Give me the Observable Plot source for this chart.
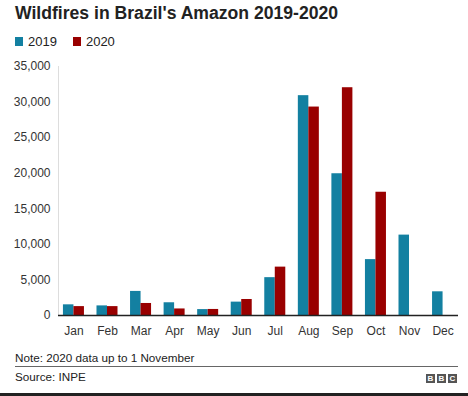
<!DOCTYPE html>
<html>
<head>
<meta charset="utf-8">
<script src="https://cdn.jsdelivr.net/npm/d3@7"></script>
<script src="https://cdn.jsdelivr.net/npm/@observablehq/plot@0.6"></script>
<style>
  html, body { margin: 0; padding: 0; background: #fff; }
  body { width: 468px; height: 396px; position: relative; overflow: hidden; font-family: "Liberation Sans", Arial, sans-serif; }
  #title { position: absolute; left: 15px; top: 3px; font-size: 17.6px; font-weight: bold; color: #222; white-space: nowrap; }
  #legend { position: absolute; left: 15px; top: 34px; font-size: 13px; color: #222; display: flex; align-items: center; }
  #legend .sw { display: inline-block; width: 8px; height: 9px; margin-right: 5px; }
  #legend .item { display: flex; align-items: center; margin-right: 16px; }
  #chart { position: absolute; left: 0; top: 56px; }
  #note { position: absolute; left: 15px; top: 351px; font-size: 11.7px; color: #222; }
  #rule { position: absolute; left: 15px; top: 366px; width: 443px; height: 1px; background: #666; }
  #source { position: absolute; left: 15px; top: 370px; font-size: 11.7px; color: #222; }
  #bbc { position: absolute; left: 426px; top: 374px; display: flex; }
  #bbc span { display: inline-block; width: 9px; height: 9px; background: #555; color: #fff; font-size: 8px; font-weight: bold; line-height: 9px; text-align: center; margin-right: 2px; }
  #bottom { position: absolute; left: 0; top: 393px; width: 468px; height: 3px; background: #222; }
</style>
</head>
<body>
<div id="title">Wildfires in Brazil's Amazon 2019-2020</div>
<div id="legend"></div>
<div id="chart"></div>
<div id="note">Note: 2020 data up to 1 November</div>
<div id="rule"></div>
<div id="source">Source: INPE</div>
<div id="bbc"><span>B</span><span>B</span><span>C</span></div>
<div id="bottom"></div>
<script>
const months = ["Jan","Feb","Mar","Apr","May","Jun","Jul","Aug","Sep","Oct","Nov","Dec"];
const fires2019 = [1500, 1350, 3385, 1790, 830, 1880, 5320, 30900, 19925, 7855, 11300, 3330];
const fires2020 = [1250, 1250, 1690, 920, 850, 2250, 6800, 29300, 32017, 17326, null, null];
const years = ["2019", "2020"];
const colors = ["#1380A1", "#990000"];
const yTicks = [0, 5000, 10000, 15000, 20000, 25000, 30000, 35000];

const d2019 = months.map((m, i) => ({month: m, value: fires2019[i]})).filter(d => d.value != null);
const d2020 = months.map((m, i) => ({month: m, value: fires2020[i]})).filter(d => d.value != null);

const legend = document.getElementById("legend");
years.forEach((y, i) => {
  const it = document.createElement("div");
  it.className = "item";
  it.innerHTML = `<span class="sw" style="background:${colors[i]}"></span><span>${y}</span>`;
  legend.appendChild(it);
});

const half = 10.5;
const chart = Plot.plot({
  width: 468,
  height: 290,
  marginLeft: 58,
  marginRight: 10,
  marginTop: 10,
  marginBottom: 31,
  style: {fontFamily: "Liberation Sans, Arial, sans-serif", fontSize: "12px", color: "#333", background: "#fff"},
  x: {domain: months, paddingInner: 0.374, paddingOuter: 0.147, round: false, label: null},
  y: {domain: [0, 35000], label: null},
  marks: [
    Plot.frame({anchor: "left", stroke: "#ddd", strokeWidth: 1}),
    Plot.axisY({ticks: yTicks, tickSize: 0, tickPadding: 8, tickFormat: d3.format(","), fill: "#333", fontSize: 12, label: null}),
    Plot.barY(d2019, {x: "month", y: "value", fill: colors[0], insetRight: half}),
    Plot.barY(d2020, {x: "month", y: "value", fill: colors[1], insetLeft: half}),
    Plot.ruleY([0], {stroke: "#222", strokeWidth: 1.5}),
    Plot.axisX({tickSize: 0, tickPadding: 11, fill: "#333", fontSize: 12, label: null})
  ]
});
document.getElementById("chart").appendChild(chart);
</script>
</body>
</html>
